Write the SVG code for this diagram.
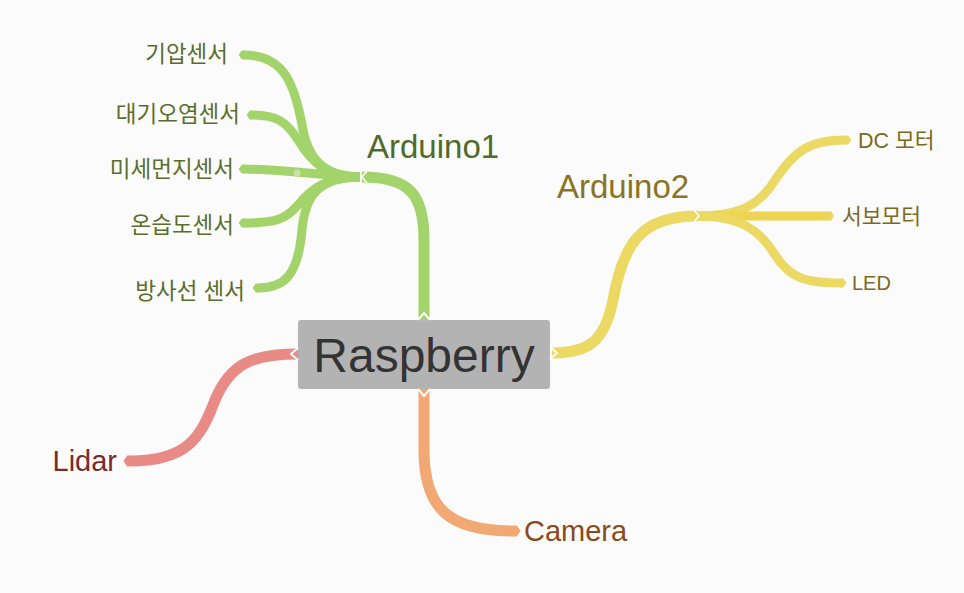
<svg xmlns="http://www.w3.org/2000/svg" width="964" height="593" viewBox="0 0 964 593">
<style>
text{font-family:"Liberation Sans","Noto Sans CJK KR",sans-serif}
.g{stroke:#a3d46c}.y{stroke:#ecd964}.r{stroke:#e88a85}.o{stroke:#f2a873}
.ln{fill:none;stroke-linecap:butt}
.main{stroke-width:11}.sub{stroke-width:9}
.notch{fill:none;stroke:#ffffff;stroke-width:1.6}
.lg{fill:#5a6e2c;font-size:22.5px}
.ly{fill:#7a6a20;font-size:21.5px}
</style>
<defs>
<marker id="mg" markerUnits="strokeWidth" markerWidth="1" markerHeight="1" refX="0" refY="0.5" viewBox="0 0 1 1" orient="auto" overflow="visible"><path d="M-0.05,0 L0.25,0 L0.6,0.5 L0.25,1 L-0.05,1 Z" fill="#a3d46c"/></marker>
<marker id="my" markerUnits="strokeWidth" markerWidth="1" markerHeight="1" refX="0" refY="0.5" viewBox="0 0 1 1" orient="auto" overflow="visible"><path d="M-0.05,0 L0.25,0 L0.6,0.5 L0.25,1 L-0.05,1 Z" fill="#ecd964"/></marker>
<marker id="mr" markerUnits="strokeWidth" markerWidth="1" markerHeight="1" refX="0" refY="0.5" viewBox="0 0 1 1" orient="auto" overflow="visible"><path d="M-0.05,0 L0.25,0 L0.6,0.5 L0.25,1 L-0.05,1 Z" fill="#e88a85"/></marker>
<marker id="mo" markerUnits="strokeWidth" markerWidth="1" markerHeight="1" refX="0" refY="0.5" viewBox="0 0 1 1" orient="auto" overflow="visible"><path d="M-0.05,0 L0.25,0 L0.6,0.5 L0.25,1 L-0.05,1 Z" fill="#f2a873"/></marker>
</defs>
<rect width="964" height="593" fill="#fbfbfb"/>
<g id="connectors">
<path class="ln g main" d="M424,320 L424,240 C424,195 410,177 362,177"/>
<path class="ln g sub" d="M360,177 C330,177 310,165 303,130 C295,85 285,55 244,55" marker-end="url(#mg)"/>
<path class="ln g sub" d="M360,177 C325,177 310,160 298,140 C286,121 276,115 252,115" marker-end="url(#mg)"/>
<path class="ln g sub" d="M360,177 C320,175 290,170 244,169" marker-end="url(#mg)"/>
<path class="ln g sub" d="M360,177 C325,177 310,190 298,205 C286,219 276,223 244,223" marker-end="url(#mg)"/>
<path class="ln g sub" d="M360,177 C320,177 305,195 302,230 C298,275 285,288 258,288" marker-end="url(#mg)"/>
<circle cx="297" cy="173" r="3.5" fill="#c6e3a4"/>
<path class="ln y main" d="M552,353 C590,353 605,340 613,300 C623,245 640,216 697,216"/>
<path class="ln y sub" d="M697,216 C740,216 760,205 775,180 C795,150 810,140 846,140" marker-end="url(#my)"/>
<path class="ln y sub" d="M697,216 L829,216" marker-end="url(#my)" style="stroke:#edd452"/>
<path class="ln y sub" d="M697,216 C740,216 760,230 775,255 C790,278 805,283 841,283" marker-end="url(#my)"/>
<path class="ln r main" d="M298,354 C250,354 230,365 215,400 C200,440 185,461 130,461" marker-end="url(#mr)"/>
<path class="ln o main" d="M424,389 L424,450 C424,510 450,531 514,531" marker-end="url(#mo)"/>
<polyline class="notch" points="367,171 362,177 367,183"/>
<polyline class="notch" points="694,210 699,216 694,222"/>
</g>
<g id="raspberry">
<rect x="298" y="320" width="252" height="69" rx="3" fill="#b3b3b3"/>
<polyline class="notch" points="418,320 424,313 430,320" style="stroke:#fbfbfb;stroke-width:2"/>
<polyline class="notch" points="418,389 424,396 430,389" style="stroke:#fbfbfb;stroke-width:2"/>
<polyline class="notch" points="298,348 291,354 298,360" style="stroke:#fbfbfb;stroke-width:2"/>
<polyline class="notch" points="550,347 557,353 550,359" style="stroke:#fbfbfb;stroke-width:2"/>
<text x="424" y="372" font-size="48" fill="#333333" text-anchor="middle">Raspberry</text>
</g>
<g id="arduino1"><text x="367" y="158" font-size="33" fill="#4f6b2a">Arduino1</text></g>
<g id="arduino2"><text x="557" y="198" font-size="33" fill="#8a7424">Arduino2</text></g>
<g id="n-giap"><text class="lg" x="228" y="62" text-anchor="end">기압센서</text></g>
<g id="n-daegi"><text class="lg" x="240" y="122" text-anchor="end">대기오염센서</text></g>
<g id="n-mise"><text class="lg" x="234" y="177" text-anchor="end">미세먼지센서</text></g>
<g id="n-onseup"><text class="lg" x="234" y="233" text-anchor="end">온습도센서</text></g>
<g id="n-bangsa"><text class="lg" x="245" y="299" text-anchor="end">방사선 센서</text></g>
<g id="n-dc"><text class="ly" x="858" y="148">DC 모터</text></g>
<g id="n-servo"><text class="ly" x="842" y="224">서보모터</text></g>
<g id="n-led"><text x="852" y="290" font-size="20" fill="#7a6a20">LED</text></g>
<g id="n-lidar"><text x="117" y="471" font-size="29" fill="#7a2a2a" text-anchor="end">Lidar</text></g>
<g id="n-camera"><text x="524" y="541" font-size="29" fill="#8a4a20">Camera</text></g>
</svg>
